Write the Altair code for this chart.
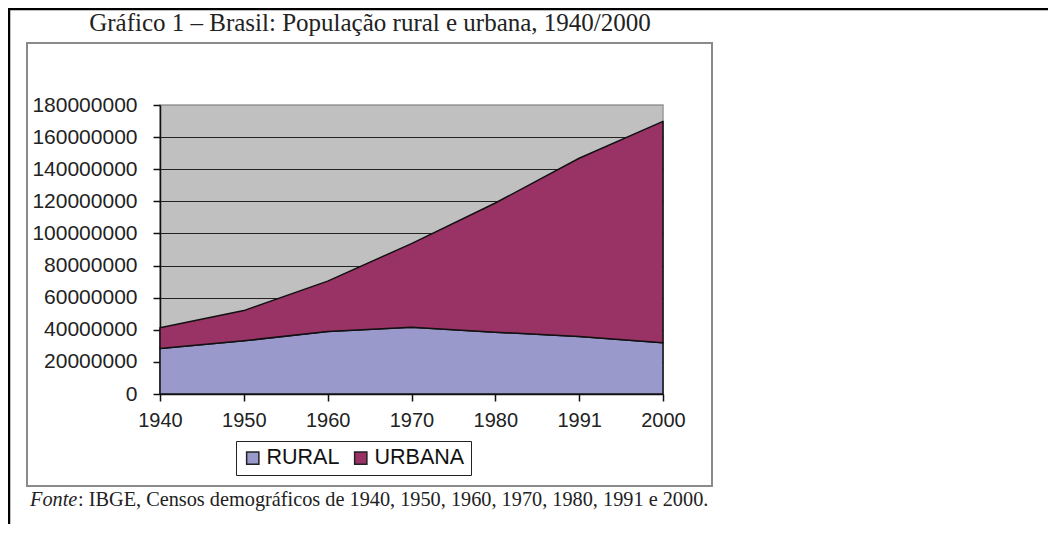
import altair as alt
import pandas as pd

years = ["1940", "1950", "1960", "1970", "1980", "1991", "2000"]
rural = [28356133, 33161506, 38987526, 41603839, 38509893, 35834485, 31845211]
urbana = [12880182, 18782891, 31303034, 52084984, 80436409, 110990990, 137953959]
series = ["RURAL", "URBANA"]
colors = ["#9999cc", "#993366"]
y_ticks = [0, 20000000, 40000000, 60000000, 80000000, 100000000,
           120000000, 140000000, 160000000, 180000000]
title_text = "Gráfico 1 – Brasil: População rural e urbana, 1940/2000"
source_label = "Fonte"
source_text = ": IBGE, Censos demográficos de 1940, 1950, 1960, 1970, 1980, 1991 e 2000."

rows = []
for i, yr in enumerate(years):
    rows.append({"ano": yr, "serie": series[0], "pop": rural[i], "ord": 0})
    rows.append({"ano": yr, "serie": series[1], "pop": urbana[i], "ord": 1})
df = pd.DataFrame(rows)

W, H = 503, 289
one = alt.Data(values=[{}])

area = alt.Chart(df).mark_area(
    stroke="#111", strokeWidth=1.5, strokeJoin="round", opacity=1
).encode(
    x=alt.X("ano:O", sort=years, scale=alt.Scale(type="point", padding=0),
            axis=alt.Axis(title=None, labelAngle=0, labelFontSize=20,
                          labelFont="Liberation Sans", labelColor="#222",
                          tickSize=7, tickColor="#111", tickWidth=1.5,
                          domainColor="#111", domainWidth=1.5, labelPadding=9)),
    y=alt.Y("pop:Q", stack="zero",
            scale=alt.Scale(domain=[0, 180000000], nice=False),
            axis=alt.Axis(title=None, values=y_ticks, format="d",
                          labelFontSize=21, labelFont="Liberation Sans",
                          labelColor="#222", tickSize=7, tickColor="#111",
                          tickWidth=1.5, domainColor="#111", domainWidth=1.5,
                          labelPadding=16, grid=True,
                          gridColor=alt.condition("datum.value == 180000000",
                                                  alt.value("#9a9a9a"),
                                                  alt.value("#222")),
                          gridWidth=1.2, gridOpacity=1)),
    color=alt.Color("serie:N", scale=alt.Scale(domain=series, range=colors),
                    legend=alt.Legend(title=None, orient="none", legendX=76,
                                      legendY=336, direction="horizontal",
                                      strokeColor="#222", fillColor="white",
                                      padding=6, symbolType="square",
                                      symbolSize=150, symbolStrokeColor="#222",
                                      symbolStrokeWidth=1.5, symbolOpacity=1,
                                      labelFontSize=21.5, labelFont="Liberation Sans",
                                      labelColor="#111", labelOffset=3,
                                      columnPadding=10)),
    order=alt.Order("ord:Q", sort="ascending"),
)

frame = alt.Chart(one).mark_rect(fillOpacity=0, stroke="#8a8a8a", strokeWidth=2).encode(
    x=alt.value(-133), x2=alt.value(552), y=alt.value(-62), y2=alt.value(381)
)
top_line = alt.Chart(one).mark_rule(color="black", strokeWidth=2.5).encode(
    x=alt.value(-152), x2=alt.value(W + 385), y=alt.value(-96)
)
left_line = alt.Chart(one).mark_rule(color="black", strokeWidth=2.5).encode(
    x=alt.value(-151), y=alt.value(-97), y2=alt.value(H + 130)
)
title = alt.Chart(one).mark_text(
    font="Liberation Serif", fontSize=25, color="#222", align="center",
    baseline="alphabetic"
).encode(x=alt.value(210), y=alt.value(-74), text=alt.value(title_text))
src1 = alt.Chart(one).mark_text(
    font="Liberation Serif", fontSize=20.3, fontStyle="italic", color="#222",
    align="left", baseline="alphabetic"
).encode(x=alt.value(-130), y=alt.value(401), text=alt.value(source_label))
src2 = alt.Chart(one).mark_text(
    font="Liberation Serif", fontSize=20.3, color="#222",
    align="left", baseline="alphabetic"
).encode(x=alt.value(-82), y=alt.value(401), text=alt.value(source_text))

chart = alt.layer(area, frame, top_line, left_line, title, src1, src2).properties(
    width=W, height=H,
    autosize=alt.AutoSizeParams(type="none"),
    padding={"left": 152, "top": 97, "right": 385, "bottom": 130},
    background="white",
).configure_view(fill="#c0c0c0", stroke="#9a9a9a", strokeWidth=1.5)

chart.save("out.html", embed_options={"renderer": "svg", "actions": False})
